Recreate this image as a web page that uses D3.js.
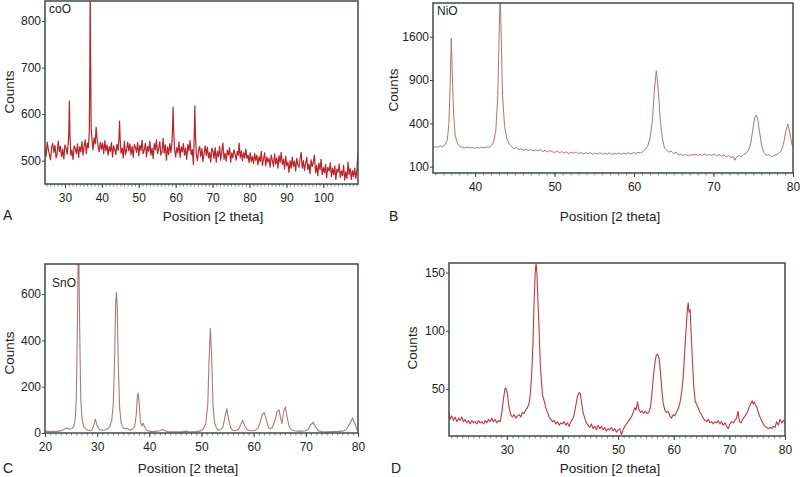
<!DOCTYPE html>
<html><head><meta charset="utf-8">
<script src="https://cdn.jsdelivr.net/npm/d3@7"></script>
<style>body{margin:0;background:#fff}svg{display:block}text{font-family:"Liberation Sans",Arial,sans-serif;fill:#222}</style>
</head><body>
<svg id="c" width="800" height="477"></svg>
<script>
// ---- Data ----
const coO_points = [[24.6,527],[24.9,510],[25.2,540],[25.5,524],[25.8,513],[26.1,502],[26.4,529],[26.7,537],[27.0,518],[27.3,533],[27.6,506],[27.9,516],[28.2,542],[28.5,520],[28.8,531],[29.1,508],[29.4,525],[29.7,504],[30.0,534],[30.3,528],[30.6,514],[30.9,538],[31.05,560],[31.2,628],[31.35,555],[31.6,511],[31.9,523],[32.2,503],[32.5,532],[32.8,526],[33.1,515],[33.4,536],[33.7,507],[34.0,530],[34.3,519],[34.6,541],[34.9,512],[35.2,531],[35.5,545],[35.8,515],[36.1,538],[36.35,528],[36.6,560],[36.75,700],[36.85,880],[36.95,720],[37.1,570],[37.35,544],[37.6,523],[37.9,549],[38.2,536],[38.45,572],[38.7,548],[39.0,530],[39.3,519],[39.6,540],[39.9,525],[40.2,538],[40.5,515],[40.8,543],[41.1,521],[41.4,534],[41.7,512],[42.0,530],[42.3,520],[42.6,539],[42.9,508],[43.2,532],[43.5,524],[43.8,513],[44.1,535],[44.4,522],[44.65,550],[44.8,585],[44.95,548],[45.2,516],[45.5,527],[45.8,506],[46.1,542],[46.4,513],[46.7,523],[47.0,540],[47.3,521],[47.6,536],[47.9,513],[48.2,531],[48.5,507],[48.8,535],[49.1,529],[49.4,518],[49.7,539],[50.0,510],[50.3,533],[50.6,522],[50.9,544],[51.2,515],[51.5,524],[51.8,538],[52.1,508],[52.4,531],[52.7,520],[53.0,542],[53.3,512],[53.6,527],[53.9,505],[54.2,537],[54.5,523],[54.8,545],[55.1,515],[55.4,526],[55.7,541],[56.0,512],[56.3,519],[56.6,548],[56.9,516],[57.2,534],[57.5,501],[57.8,530],[58.1,513],[58.4,537],[58.7,518],[59.0,540],[59.15,570],[59.3,615],[59.45,565],[59.7,526],[60.0,508],[60.3,528],[60.6,517],[60.9,540],[61.2,507],[61.5,530],[61.8,519],[62.1,537],[62.4,512],[62.7,527],[63.0,503],[63.3,535],[63.6,521],[63.9,543],[64.2,513],[64.5,524],[64.8,492],[65.05,560],[65.2,618],[65.35,555],[65.6,514],[65.9,500],[66.2,522],[66.5,531],[66.8,509],[67.1,526],[67.4,498],[67.7,517],[68.0,532],[68.3,511],[68.6,529],[68.9,506],[69.2,518],[69.5,497],[69.8,527],[70.1,521],[70.4,505],[70.7,528],[71.0,497],[71.3,520],[71.6,509],[71.9,531],[72.2,501],[72.5,521],[72.8,538],[73.1,503],[73.4,516],[73.7,499],[74.0,523],[74.3,512],[74.6,528],[74.9,497],[75.2,517],[75.5,506],[75.8,524],[76.1,514],[76.4,501],[76.7,520],[77.0,512],[77.2,538],[77.5,506],[77.8,521],[78.1,500],[78.4,517],[78.7,506],[79.0,525],[79.3,505],[79.6,512],[79.9,496],[80.2,517],[80.5,498],[80.8,509],[81.1,494],[81.4,516],[81.7,500],[82.0,512],[82.3,491],[82.6,509],[82.9,498],[83.2,520],[83.5,490],[83.8,503],[84.1,517],[84.4,489],[84.7,508],[85.0,497],[85.3,505],[85.6,486],[85.9,512],[86.2,501],[86.5,488],[86.8,515],[87.1,493],[87.4,506],[87.7,484],[88.0,511],[88.3,496],[88.6,518],[88.9,492],[89.2,503],[89.5,483],[89.8,510],[90.1,489],[90.4,497],[90.7,475],[91.0,500],[91.3,484],[91.6,508],[91.9,488],[92.2,499],[92.5,478],[92.8,505],[93.1,492],[93.4,486],[93.7,503],[94.0,518],[94.3,484],[94.6,500],[94.9,479],[95.2,494],[95.5,508],[95.8,481],[96.1,493],[96.4,472],[96.7,502],[97.0,488],[97.3,497],[97.6,512],[97.9,474],[98.2,490],[98.5,468],[98.8,495],[99.1,481],[99.4,503],[99.7,470],[100.0,485],[100.3,474],[100.6,492],[100.9,463],[101.2,486],[101.6,478],[101.9,496],[102.2,466],[102.5,484],[102.8,470],[103.1,489],[103.4,460],[103.7,482],[104.0,475],[104.3,493],[104.6,464],[104.9,478],[105.2,468],[105.5,490],[105.8,458],[106.1,476],[106.4,462],[106.7,497],[107.0,470],[107.3,483],[107.6,460],[107.9,479],[108.2,466],[108.5,484],[108.8,462],[109.1,480],[109.4,518]];

const niO_points = [[34.7,205],[35.0,215],[35.3,208],[35.6,220],[35.9,212],[36.2,225],[36.5,260],[36.7,400],[36.85,800],[37.0,1571],[37.15,900],[37.3,480],[37.5,290],[37.8,235],[38.1,215],[38.4,210],[38.7,205],[39.0,212],[39.3,206],[39.6,210],[39.9,203],[40.2,208],[40.5,204],[40.8,210],[41.1,205],[41.4,212],[41.7,208],[42.0,218],[42.3,240],[42.6,330],[42.85,700],[43.0,1500],[43.15,2500],[43.3,1500],[43.45,700],[43.7,380],[44.0,270],[44.3,230],[44.6,215],[44.9,200],[45.2,208],[45.5,195],[45.8,200],[46.1,190],[46.4,198],[46.7,188],[47.0,196],[47.3,185],[47.6,192],[47.9,186],[48.2,194],[48.5,182],[48.8,190],[49.1,180],[49.4,188],[49.7,182],[50.0,176],[50.3,186],[50.6,174],[50.9,182],[51.2,172],[51.5,180],[51.8,170],[52.1,178],[52.4,172],[52.7,180],[53.0,168],[53.3,176],[53.6,166],[53.9,174],[54.2,168],[54.5,176],[54.8,165],[55.1,173],[55.4,167],[55.7,175],[56.0,165],[56.3,172],[56.6,166],[56.9,174],[57.2,164],[57.5,172],[57.8,166],[58.1,174],[58.4,165],[58.7,172],[59.0,168],[59.3,175],[59.6,167],[59.9,176],[60.2,170],[60.5,178],[60.8,172],[61.1,182],[61.4,195],[61.7,215],[62.0,270],[62.3,420],[62.55,750],[62.8,1034],[63.05,760],[63.3,430],[63.55,280],[63.8,210],[64.1,190],[64.4,178],[64.7,185],[65.0,170],[65.3,178],[65.6,160],[65.9,168],[66.2,158],[66.5,165],[66.8,155],[67.1,164],[67.4,160],[67.7,166],[68.0,158],[68.3,165],[68.6,160],[68.9,167],[69.2,158],[69.5,164],[69.8,160],[70.1,166],[70.4,156],[70.7,163],[71.0,155],[71.3,162],[71.6,150],[71.9,158],[72.2,146],[72.5,152],[72.7,132],[72.9,150],[73.2,158],[73.5,150],[73.8,165],[74.1,172],[74.4,190],[74.7,240],[74.95,350],[75.2,460],[75.4,481],[75.6,420],[75.85,300],[76.1,210],[76.4,170],[76.7,160],[77.0,164],[77.3,150],[77.6,158],[77.9,162],[78.2,170],[78.5,185],[78.8,230],[79.1,330],[79.35,394],[79.6,320],[79.85,230],[80.0,215]];

const snO_points = [[20.0,8],[20.5,7],[21.0,6],[21.5,7],[22.0,6],[22.5,8],[23.0,9],[23.5,14],[24.0,20],[24.3,22],[24.7,16],[25.1,18],[25.5,28],[25.8,60],[26.0,150],[26.2,450],[26.42,900],[26.65,450],[26.85,150],[27.1,60],[27.4,30],[27.8,18],[28.2,12],[28.6,10],[29.0,14],[29.3,30],[29.65,60],[30.0,32],[30.4,16],[30.8,12],[31.2,12],[31.6,14],[32.0,18],[32.4,28],[32.8,55],[33.1,130],[33.35,330],[33.55,560],[33.7,608],[33.85,540],[34.05,300],[34.3,110],[34.6,45],[35.0,22],[35.4,18],[35.7,20],[36.0,16],[36.4,12],[36.8,16],[37.2,30],[37.5,80],[37.7,155],[37.87,173],[38.05,130],[38.3,50],[38.55,30],[38.83,42],[39.1,25],[39.5,12],[40.0,8],[40.5,6],[41.0,6],[41.5,8],[42.0,10],[42.5,15],[43.0,10],[43.5,6],[44.0,5],[45.0,5],[46.0,5],[46.5,6],[47.0,8],[47.5,6],[48.0,5],[49.0,6],[49.8,9],[50.3,16],[50.8,40],[51.2,120],[51.45,320],[51.7,452],[51.95,330],[52.2,120],[52.5,45],[52.9,20],[53.3,12],[53.7,14],[54.1,25],[54.5,70],[54.85,104],[55.2,60],[55.6,22],[56.0,12],[56.5,10],[57.0,14],[57.5,35],[57.9,55],[58.3,30],[58.8,14],[59.3,10],[59.8,10],[60.3,12],[60.8,20],[61.3,50],[61.7,82],[62.0,89],[62.4,60],[62.8,25],[63.2,18],[63.6,25],[64.1,55],[64.5,92],[64.87,100],[65.2,60],[65.45,40],[65.75,95],[66.1,112],[66.4,70],[66.8,28],[67.2,14],[67.8,10],[68.5,8],[69.2,8],[69.9,10],[70.4,14],[70.9,35],[71.4,46],[71.9,25],[72.4,10],[73.0,6],[74.0,5],[75.0,6],[76.0,6],[77.0,8],[77.7,14],[78.3,35],[78.95,65],[79.4,40],[79.8,15],[80.0,12]];

const sampleD_points = [[19.6,30],[19.8,24],[20.1,27],[20.4,23],[20.7,26],[21.0,22],[21.3,25],[21.6,23],[21.9,26],[22.2,22],[22.5,24],[22.8,21],[23.1,23],[23.4,20],[23.7,23],[24.0,21],[24.3,22],[24.6,20],[24.9,23],[25.2,21],[25.5,22],[25.8,20],[26.1,23],[26.4,21],[26.7,24],[27.0,22],[27.3,25],[27.6,22],[27.9,24],[28.2,21],[28.5,23],[28.8,22],[29.1,30],[29.4,42],[29.7,51],[29.9,50],[30.1,46],[30.4,34],[30.7,28],[31.0,26],[31.3,28],[31.6,25],[31.9,27],[32.2,28],[32.5,26],[32.8,30],[33.1,29],[33.4,32],[33.7,34],[34.0,38],[34.2,45],[34.45,62],[34.7,90],[34.9,125],[35.1,150],[35.25,158],[35.4,150],[35.6,125],[35.8,100],[36.0,72],[36.2,58],[36.4,45],[36.7,40],[37.0,34],[37.3,30],[37.6,26],[37.9,24],[38.2,22],[38.5,23],[38.8,20],[39.1,22],[39.4,19],[39.7,21],[40.0,20],[40.3,22],[40.6,19],[40.9,21],[41.2,18],[41.5,22],[41.8,24],[42.1,28],[42.4,36],[42.7,44],[43.0,47],[43.2,46],[43.45,38],[43.7,30],[44.0,25],[44.3,21],[44.6,19],[44.9,17],[45.2,20],[45.5,16],[45.8,18],[46.1,15],[46.4,19],[46.7,16],[47.0,18],[47.3,15],[47.6,17],[47.9,14],[48.2,16],[48.5,15],[48.8,17],[49.1,14],[49.4,16],[49.7,13],[50.0,15],[50.3,16],[50.6,11],[50.9,15],[51.2,18],[51.5,20],[51.8,22],[52.1,24],[52.4,26],[52.7,30],[53.0,34],[53.2,32],[53.5,39],[53.7,33],[54.0,30],[54.3,31],[54.6,29],[54.9,31],[55.2,29],[55.5,30],[55.8,34],[56.0,42],[56.3,58],[56.6,72],[56.85,79],[57.1,80],[57.35,77],[57.6,65],[57.85,50],[58.1,38],[58.4,32],[58.7,30],[59.0,31],[59.3,27],[59.6,25],[59.9,28],[60.2,27],[60.5,30],[60.8,33],[61.1,38],[61.4,46],[61.7,60],[61.95,80],[62.2,100],[62.45,118],[62.6,124],[62.75,116],[62.95,118],[63.15,96],[63.4,70],[63.6,52],[63.85,40],[64.1,37],[64.4,34],[64.7,30],[65.0,28],[65.3,25],[65.6,23],[65.9,22],[66.2,24],[66.5,21],[66.8,22],[67.1,20],[67.4,22],[67.7,21],[68.0,23],[68.3,20],[68.6,22],[68.9,19],[69.2,21],[69.5,18],[69.8,16],[70.1,20],[70.4,22],[70.7,21],[71.0,23],[71.3,25],[71.55,31],[71.8,22],[72.1,21],[72.4,24],[72.7,26],[73.0,28],[73.3,31],[73.6,35],[73.9,38],[74.1,40],[74.3,37],[74.5,39],[74.7,36],[74.9,35],[75.2,30],[75.5,26],[75.8,23],[76.1,20],[76.4,18],[76.7,17],[77.0,16],[77.3,17],[77.6,16],[77.9,18],[78.2,17],[78.5,22],[78.8,19],[79.1,24],[79.4,21],[79.7,23],[80.0,21]];

const coO_xticks = [30,40,50,60,70,80,90,100];
const coO_yticks = [500,600,700,800];
const niO_xticks = [40,50,60,70,80];
const niO_yticks = [100,400,900,1600];
const snO_xticks = [20,30,40,50,60,70,80];
const snO_yticks = [0,200,400,600];
const sampleD_xticks = [30,40,50,60,70,80];
const sampleD_yticks = [50,100,150];

const panelLetters = ["A","B","C","D"];
const sampleNames = ["coO","NiO","SnO",""];
const xTitle = "Position [2 theta]";
const yTitle = "Counts";

// ---- Layout ----
const svg = d3.select("#c");
const panels = [
  {pts:coO_points, xt:coO_xticks, yt:coO_yticks, xd:[24.6,109.4], yd:[450,843], sqrt:false,
   box:[45,358,1,184], color:"#b8222a", w:1.2, letter:[3,220], title:[213,221], ylab:[14,92], name:[49,13], minor:[25,109]},
  {pts:niO_points, xt:niO_xticks, yt:niO_yticks, xd:[34.7,80], yd:[73,2283], sqrt:true,
   box:[433,793,3,173], color:"#b07474", w:1, letter:[389,221], title:[610,221], ylab:[398,90], name:[437,15], minor:[35,80]},
  {pts:snO_points, xt:snO_xticks, yt:snO_yticks, xd:[20,80], yd:[0,730], sqrt:false,
   box:[45,358,264,433], color:"#a97a7a", w:1.1, letter:[3,473], title:[188,473], ylab:[14,353], name:[52,287], minor:[20,80]},
  {pts:sampleD_points, xt:sampleD_xticks, yt:sampleD_yticks, xd:[19.6,80], yd:[9.7,158.2], sqrt:false,
   box:[449,785,263,436], color:"#c2393d", w:1.1, letter:[391,473], title:[610,473], ylab:[417,348], name:[453,277], minor:[20,80]}
];

panels.forEach((p,i) => {
  const [x0,x1,y0,y1] = p.box;
  const x = d3.scaleLinear().domain(p.xd).range([x0,x1]);
  const y = (p.sqrt ? d3.scaleSqrt() : d3.scaleLinear()).domain(p.yd).range([y1,y0]);
  const g = svg.append("g");

  const cid = "clip"+i;
  g.append("clipPath").attr("id",cid).append("rect")
    .attr("x",x0).attr("y",y0).attr("width",x1-x0).attr("height",y1-y0);

  // minor x ticks
  const minor = d3.range(p.minor[0], p.minor[1]+0.001, 1);
  g.append("g").attr("transform",`translate(0,${y1})`)
    .call(d3.axisBottom(x).tickValues(minor).tickSize(2.5).tickFormat(""))
    .call(a=>a.select(".domain").remove())
    .call(a=>a.selectAll("line").attr("stroke","#666").attr("stroke-width",0.8));

  // major x ticks
  g.append("g").attr("transform",`translate(0,${y1})`)
    .call(d3.axisBottom(x).tickValues(p.xt).tickSize(4).tickPadding(5).tickFormat(d3.format("d")))
    .call(a=>a.select(".domain").remove())
    .call(a=>a.selectAll("line").attr("stroke","#444"))
    .call(a=>a.selectAll("text").attr("font-size",12).attr("fill","#222")
      .style("font-family",'"Liberation Sans",Arial,sans-serif'));

  // y ticks
  g.append("g").attr("transform",`translate(${x0},0)`)
    .call(d3.axisLeft(y).tickValues(p.yt).tickSize(3).tickPadding(1).tickFormat(d3.format("d")))
    .call(a=>a.select(".domain").remove())
    .call(a=>a.selectAll("line").attr("stroke","#444"))
    .call(a=>a.selectAll("text").attr("font-size",12).attr("fill","#222")
      .style("font-family",'"Liberation Sans",Arial,sans-serif'));

  // data line
  const line = d3.line().x(d=>x(d[0])).y(d=>y(Math.max(d[1], p.yd[0])));
  g.append("path").datum(p.pts).attr("clip-path",`url(#${cid})`)
    .attr("d",line).attr("fill","none").attr("stroke",p.color)
    .attr("stroke-width",p.w).attr("stroke-linejoin","round");

  // frame
  g.append("rect").attr("x",x0).attr("y",y0).attr("width",x1-x0).attr("height",y1-y0)
    .attr("fill","none").attr("stroke","#3f4a4a").attr("stroke-width",1.5);

  // sample name
  if (sampleNames[i]) g.append("text").attr("x",p.name[0]).attr("y",p.name[1])
    .attr("font-size",12).text(sampleNames[i]);

  // axis titles
  g.append("text").attr("x",p.title[0]).attr("y",p.title[1]).attr("text-anchor","middle")
    .attr("font-size",13.5).text(xTitle);
  g.append("text").attr("transform",`translate(${p.ylab[0]},${p.ylab[1]}) rotate(-90)`)
    .attr("text-anchor","middle").attr("font-size",13.5).text(yTitle);
  g.append("text").attr("x",p.letter[0]).attr("y",p.letter[1]).attr("font-size",14).text(panelLetters[i]);
});
</script>
</body></html>
